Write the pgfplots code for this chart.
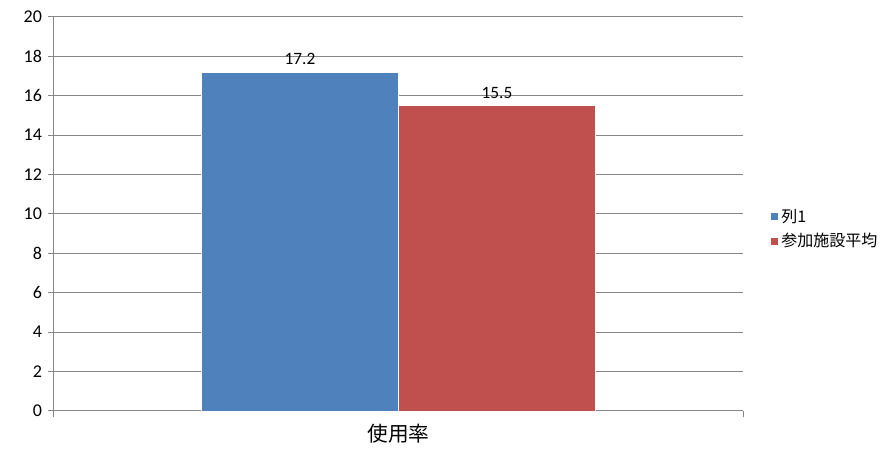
\documentclass[border=0pt]{standalone}
\usepackage{pgfplots}
\pgfplotsset{compat=1.18}
\usepackage{fontspec}
\setmainfont{Carlito}
\newfontfamily\cjk{Noto Sans CJK JP}
\definecolor{xblue}{HTML}{4F81BD}
\definecolor{xred}{HTML}{C0504D}
\definecolor{xgrid}{HTML}{868686}
\begin{document}
\begin{tikzpicture}
\begin{axis}[
  name=ax,
  scale only axis,
  width=516.75pt, height=295.5pt,
  ybar=0pt, bar width=147.75pt,
  xmin=-0.5, xmax=0.5,
  ymin=0, ymax=20,
  ytick={0,2,...,20},
  axis lines*=left,
  axis line style={xgrid, line width=0.75pt},
  ymajorgrids,
  grid style={xgrid, line width=0.75pt},
  tick style={xgrid, line width=0.75pt},
  tick align=outside,
  major tick length=4.5pt,
  xtick={-0.5,0.5}, xticklabels={},
  extra x ticks={0},
  extra x tick labels={{\cjk\fontsize{15.5pt}{18pt}\selectfont 使用率}},
  extra x tick style={major tick length=0pt, grid=none, xticklabel style={yshift=-6pt}},
  /pgf/number format/assume math mode=true,
  yticklabel style={font=\fontsize{13.5pt}{15pt}\selectfont, black, xshift=-1pt},
  nodes near coords,
  nodes near coords style={font=\fontsize{13pt}{15pt}\selectfont, black, yshift=2pt},
  point meta=explicit symbolic,
  legend style={draw=none, fill=none, at={(1.033,0.462)}, anchor=west,
    font=\cjk\fontsize{12pt}{14pt}\selectfont, row sep=3pt, cells={anchor=west}},
  legend image code/.code={\fill[#1] (0pt,-3pt) rectangle (6pt,3pt);},
  clip=false,
]
\addplot[fill=xblue, draw=white, line width=0.5pt] coordinates {(0,17.2) [17.2]};
\addplot[fill=xred, draw=white, line width=0.5pt] coordinates {(0,15.5) [15.5]};
\legend{列1,参加施設平均}
\end{axis}
\pgfresetboundingbox
\path ([xshift=-40.5pt,yshift=-33.75pt]ax.south west) rectangle ([xshift=109.5pt,yshift=12.75pt]ax.north east);
\end{tikzpicture}
\end{document}
